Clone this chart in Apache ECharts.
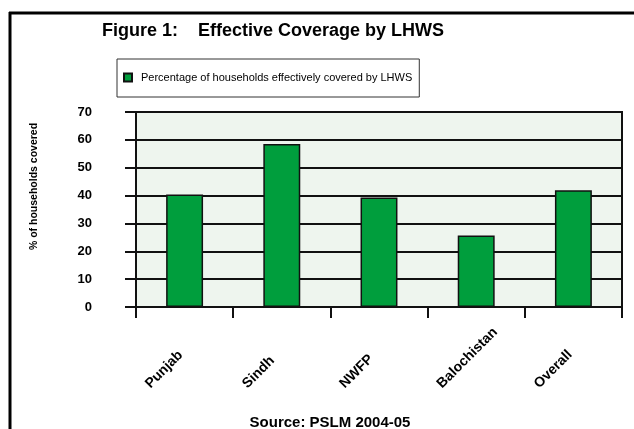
<!DOCTYPE html>
<html>
<head>
<meta charset="utf-8">
<script src="https://cdn.jsdelivr.net/npm/echarts@6/dist/echarts.min.js"></script>
<style>
    html, body { margin: 0; padding: 0; background: #fff; }
    #divChart { width: 634px; height: 429px; }
</style>
</head>
<body>
<div id="divChart"></div>
<script>
// Figure 1: Effective Coverage by LHWS
var regions = ['Punjab', 'Sindh', 'NWFP', 'Balochistan', 'Overall'];
var coverage = [40.4, 58.5, 39.3, 25.7, 41.9];
var yTicks = [0, 10, 20, 30, 40, 50, 60, 70];
var seriesName = 'Percentage of households effectively covered by LHWS';

var font = '"Liberation Sans", Arial, sans-serif';
var myChart = echarts.init(document.getElementById('divChart'));

var option = {
    backgroundColor: '#fff',
    animation: false,
    title: {
        text: 'Figure 1:    Effective Coverage by LHWS',
        left: 102,
        top: 22,
        padding: 0,
        textStyle: {
            fontFamily: font,
            fontSize: 18,
            fontWeight: 'bold',
            color: '#000'
        }
    },
    legend: {
        left: 117,
        top: 59,
        padding: [13, 7, 14, 6],
        borderColor: '#333',
        borderWidth: 1,
        icon: 'rect',
        itemWidth: 8,
        itemHeight: 8,
        textStyle: {
            fontFamily: font,
            fontSize: 11,
            color: '#000',
            padding: [0, 0, 0, 4]
        },
        data: [seriesName]
    },
    grid: {
        left: 136,
        right: 12,
        top: 112,
        bottom: 122,
        show: true,
        backgroundColor: '#EEF5EE',
        borderColor: '#111',
        borderWidth: 2
    },
    xAxis: {
        type: 'category',
        data: regions,
        boundaryGap: true,
        axisLine: { lineStyle: { color: '#111', width: 2 } },
        axisTick: { show: true, length: 11, interval: 0, lineStyle: { color: '#111', width: 2 } },
        axisLabel: { show: false },
        splitLine: { show: false }
    },
    yAxis: {
        type: 'value',
        min: yTicks[0],
        max: yTicks[yTicks.length - 1],
        interval: 10,
        name: '% of households covered',
        nameLocation: 'middle',
        nameRotate: 90,
        nameGap: 96,
        nameTextStyle: {
            fontFamily: font,
            fontSize: 10.5,
            fontWeight: 'bold',
            color: '#000',
            padding: [0, 0, 0, 46]
        },
        axisLine: { show: true, lineStyle: { color: '#111', width: 2 } },
        axisTick: { show: true, length: 11, lineStyle: { color: '#111', width: 2 } },
        axisLabel: {
            margin: 44,
            fontFamily: font,
            fontSize: 13,
            fontWeight: 'bold',
            color: '#000'
        },
        splitLine: { show: true, lineStyle: { color: '#111', width: 2 } }
    },
    series: [{
        name: seriesName,
        type: 'bar',
        barWidth: '38%',
        itemStyle: {
            color: '#009E3D',
            borderColor: '#111',
            borderWidth: 1.5
        },
        data: coverage
    }],
    graphic: [
        // page frame (left and top only)
        { id: 'frameLeft', type: 'line', shape: { x1: 10, y1: 12, x2: 10, y2: 429 }, style: { stroke: '#000', lineWidth: 3 } },
        { id: 'frameTop', type: 'line', shape: { x1: 9, y1: 13, x2: 634, y2: 13 }, style: { stroke: '#000', lineWidth: 3 } },
        {
            id: 'source',
            type: 'text',
            x: 330,
            y: 415,
            style: {
                text: 'Source: PSLM 2004-05',
                font: 'bold 15px ' + font,
                fill: '#000',
                textAlign: 'center',
                textVerticalAlign: 'top'
            }
        }
    ]
};
myChart.setOption(option);

// rotated category labels, start point aligned on a common baseline
var labelGraphics = regions.map(function (name, i) {
    var px = myChart.convertToPixel({ xAxisIndex: 0 }, name);
    return {
        id: 'xlab' + i,
        type: 'text',
        x: px - 32,
        y: 391,
        rotation: Math.PI / 4,
        style: {
            text: name,
            font: 'bold 14px ' + font,
            fill: '#000',
            textAlign: 'left',
            textVerticalAlign: 'bottom'
        }
    };
});
myChart.setOption({ graphic: labelGraphics });
</script>
</body>
</html>
